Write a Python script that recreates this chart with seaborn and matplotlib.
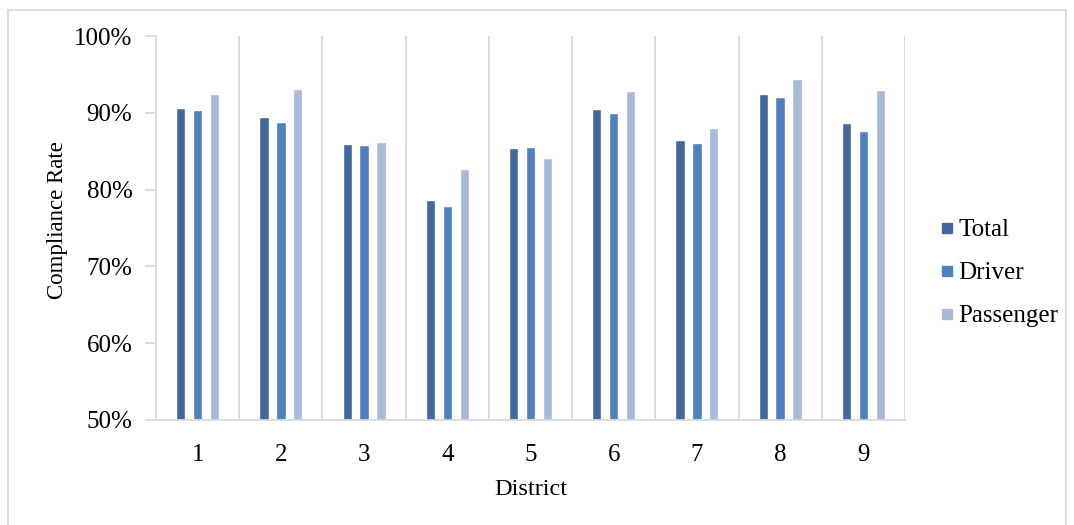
import numpy as np
import pandas as pd
import matplotlib.pyplot as plt
import seaborn as sns
from matplotlib.patches import Rectangle
from matplotlib.ticker import PercentFormatter

districts = ["1", "2", "3", "4", "5", "6", "7", "8", "9"]
total = [90.6, 89.5, 85.9, 78.7, 85.4, 90.5, 86.4, 92.4, 88.7]
driver = [90.35, 88.8, 85.8, 77.9, 85.5, 90.0, 86.1, 92.0, 87.6]
passenger = [92.45, 93.1, 86.2, 82.7, 84.1, 92.8, 88.05, 94.45, 93.0]
series = ["Total", "Driver", "Passenger"]
colors = ["#41699C", "#4F81BD", "#AAB9D7"]

df = pd.DataFrame({"District": districts, "Total": total,
                   "Driver": driver, "Passenger": passenger})
long = df.melt(id_vars="District", var_name="Series", value_name="Rate")

sns.set_style("white")
plt.rcParams["font.family"] = ["Liberation Serif", "DejaVu Serif"]
plt.rcParams["text.color"] = "black"
plt.rcParams["axes.labelcolor"] = "black"
plt.rcParams["xtick.labelcolor"] = "black"
plt.rcParams["ytick.labelcolor"] = "black"
grey = "#D9D9D9"

fig = plt.figure(figsize=(10.74, 5.25), dpi=100)
ax = fig.add_axes([0.1453, 0.2, 0.8426 - 0.1453, 0.9314 - 0.2])

sns.barplot(data=long, x="District", y="Rate", hue="Series", order=districts,
            hue_order=series, palette=colors, width=0.61, gap=0.45,
            saturation=1, ax=ax, legend=False)

ax.set_xlim(-0.5, len(districts) - 0.5)
ax.set_ylim(50, 100)
ax.set_yticks(np.arange(50, 101, 10))
ax.yaxis.set_major_formatter(PercentFormatter(decimals=0))

# category separators
for b in np.arange(0.5, len(districts) + 0.5, 1.0):
    ax.axvline(b, color=grey, lw=1.3, zorder=0)

for s in ["top", "right"]:
    ax.spines[s].set_visible(False)
for s in ["left", "bottom"]:
    ax.spines[s].set_color(grey)
    ax.spines[s].set_linewidth(1.3)

ax.tick_params(axis="y", which="both", left=True, length=8, width=1.3,
               color=grey, pad=9, labelsize=18)
ax.tick_params(axis="x", bottom=False, pad=14, labelsize=18)
ax.set_xlabel("District", fontsize=17.5, labelpad=9)
ax.set_ylabel("Compliance Rate", fontsize=16.5)
ax.yaxis.set_label_coords(-0.117, 0.52)

handles = [plt.Line2D([], [], marker="s", ls="", markersize=7.5, color=c)
           for c in colors]
fig.legend(handles, series, loc="center left", bbox_to_anchor=(0.854, 0.48),
           frameon=False, fontsize=18, handletextpad=0.15, labelspacing=0.82,
           handlelength=0.6)

fig.patches.append(Rectangle((8 / 1074, -10 / 525), 1058 / 1074, 525 / 525,
                             transform=fig.transFigure, fill=False,
                             edgecolor=grey, lw=1.3))

fig.savefig("out.png", dpi=100)
